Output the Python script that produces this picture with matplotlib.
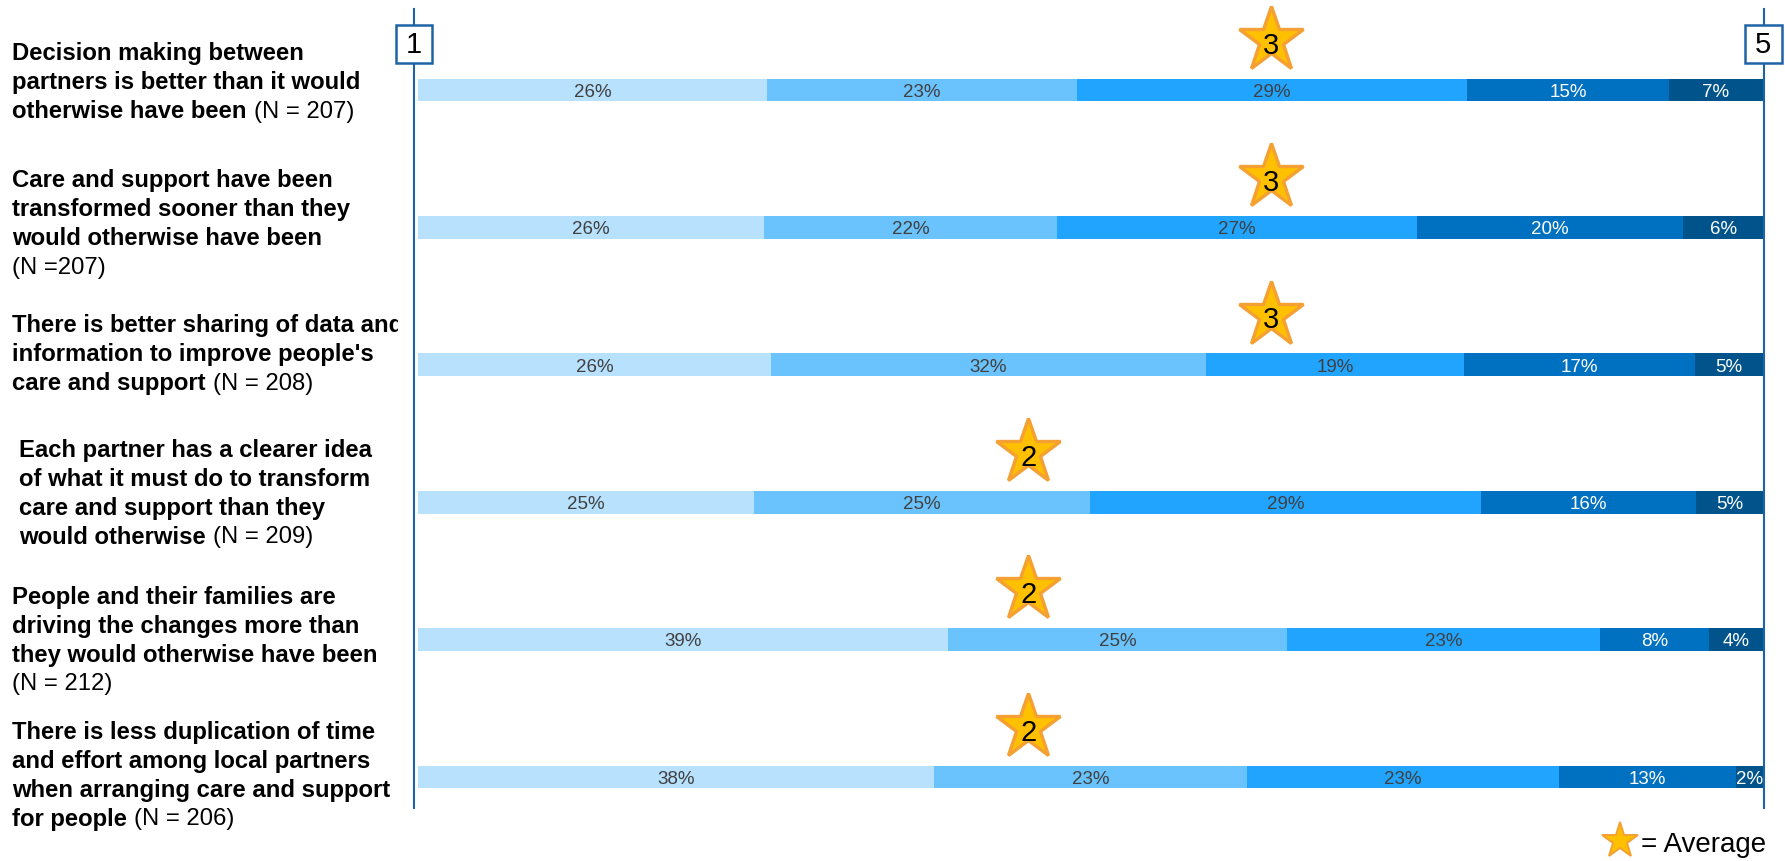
import matplotlib
matplotlib.use("Agg")
import matplotlib.pyplot as plt
from matplotlib.lines import Line2D
from matplotlib.patches import Rectangle
from matplotlib.transforms import blended_transform_factory

statements = [
	"Decision making between\npartners is better than it would\notherwise have been (N = 207)",
	"Care and support have been\ntransformed sooner than they\nwould otherwise have been\n(N =207)",
	"There is better sharing of data and\ninformation to improve people's\ncare and support (N = 208)",
	"Each partner has a clearer idea\nof what it must do to transform\ncare and support than they\nwould otherwise (N = 209)",
	"People and their families are\ndriving the changes more than\nthey would otherwise have been\n(N = 212)",
	"There is less duplication of time\nand effort among local partners\nwhen arranging care and support\nfor people (N = 206)",
]

# share of answers for each point of the 1..5 scale
shares = [
	[26, 23, 29, 15, 7],
	[26, 22, 27, 20, 6],
	[26, 32, 19, 17, 5],
	[25, 25, 29, 16, 5],
	[39, 25, 23, 8, 4],
	[38, 23, 23, 13, 2],
]

averages = [3, 3, 3, 2, 2, 2]
average_pos = [63.4, 63.4, 63.4, 45.4, 45.4, 45.4]
scale_ends = ["1", "5"]

colors = ["#B7E1FD", "#6BC3FD", "#21A4FE", "#0070C0", "#00538B"]
text_colors = ["#404040", "#404040", "#404040", "white", "white"]
blue = "#1F63A6"
star_fill = "#FFC000"
star_edge = "#F4A033"

W, H = 1785.0, 862.0
ROW = 137.4


def main():
	plt.rcParams['font.family'] = ['Liberation Sans', 'DejaVu Sans']
	fig = plt.figure(figsize=(W / 100, H / 100), dpi=100)
	ax = fig.add_axes([414 / W, 1 - 809 / H, 1350 / W, 799 / H])
	ax.set_xlim(-0.275, 100.07)
	ax.set_ylim((809 - 91) / ROW, (10 - 91) / ROW)

	for s in ['top', 'bottom']:
		ax.spines[s].set_visible(False)
	for s in ['left', 'right']:
		ax.spines[s].set_color(blue)
		ax.spines[s].set_linewidth(1.5)
	ax.set_xticks([])
	ax.set_yticks([])

	# stacked bars
	for i, row in enumerate(shares):
		total = float(sum(row))
		left = 0
		for j, v in enumerate(row):
			w = v * 100.0 / total
			ax.barh(i, w, left=left, height=0.167, color=colors[j], linewidth=0)
			ax.text(left + w / 2, i + 0.01, str(v) + "%", ha='center', va='center',
				color=text_colors[j], fontsize=13.5)
			left += w

	# average stars
	ys = [i - 0.365 for i in range(len(averages))]
	ax.plot(average_pos, ys, ls='none', marker='*', ms=49, mfc=star_fill,
		mec=star_edge, mew=2.4, clip_on=False, zorder=4)
	for x, y, a in zip(average_pos, ys, averages):
		ax.text(x, y + 0.035, str(a), ha='center', va='center', fontsize=21, zorder=5)

	# 1 and 5 boxes on the scale lines
	for x, lab in zip([-0.275, 100.0], scale_ends):
		ax.add_patch(Rectangle((x - 1.375, -0.335 - 0.138), 2.75, 0.276, fc='white',
			ec=blue, lw=1.8, clip_on=False, zorder=5))
		ax.text(x, -0.335, lab, ha='center', va='center', fontsize=21, zorder=6)

	# statement labels, bold text with regular (N = ...)
	renderer = fig.canvas.get_renderer()
	trans = blended_transform_factory(fig.transFigure, ax.transData)
	clip = Rectangle((0, 0), 398 / W, 1, transform=fig.transFigure)
	offsets = [-0.06, -0.03, -0.08, -0.07, 0.0, -0.015]
	indents = [12, 12, 12, 19, 12, 12]
	step = 29 / ROW
	for i, label in enumerate(statements):
		lines = label.split("\n")
		n = len(lines)
		for k, line in enumerate(lines):
			y = i + offsets[i] + (k - (n - 1) / 2.0) * step
			if "(N" in line:
				bold, reg = line.split("(N", 1)
				reg = "(N" + reg
			else:
				bold, reg = line, ""
			x = indents[i] / W
			if bold.strip():
				t = fig.text(x, y, bold.rstrip(), transform=trans, ha='left', va='center',
					fontsize=17.2, fontweight='bold')
				t.set_clip_path(clip)
				x += (t.get_window_extent(renderer).width + 7) / W
			if reg:
				fig.text(x, y, reg, transform=trans, ha='left', va='center', fontsize=17.2)

	# legend
	star = Line2D([], [], ls='none', marker='*', ms=27, mfc=star_fill, mec=star_edge, mew=1.4)
	ax.legend(handles=[star], labels=["= Average"], loc='center right',
		bbox_to_anchor=(1766 / W, 1 - 845 / H), bbox_transform=fig.transFigure,
		frameon=False, fontsize=20, handletextpad=0.15, handlelength=1.2, borderpad=0,
		borderaxespad=0)

	fig.savefig("out.png", dpi=100)


if __name__ == "__main__":
	main()
